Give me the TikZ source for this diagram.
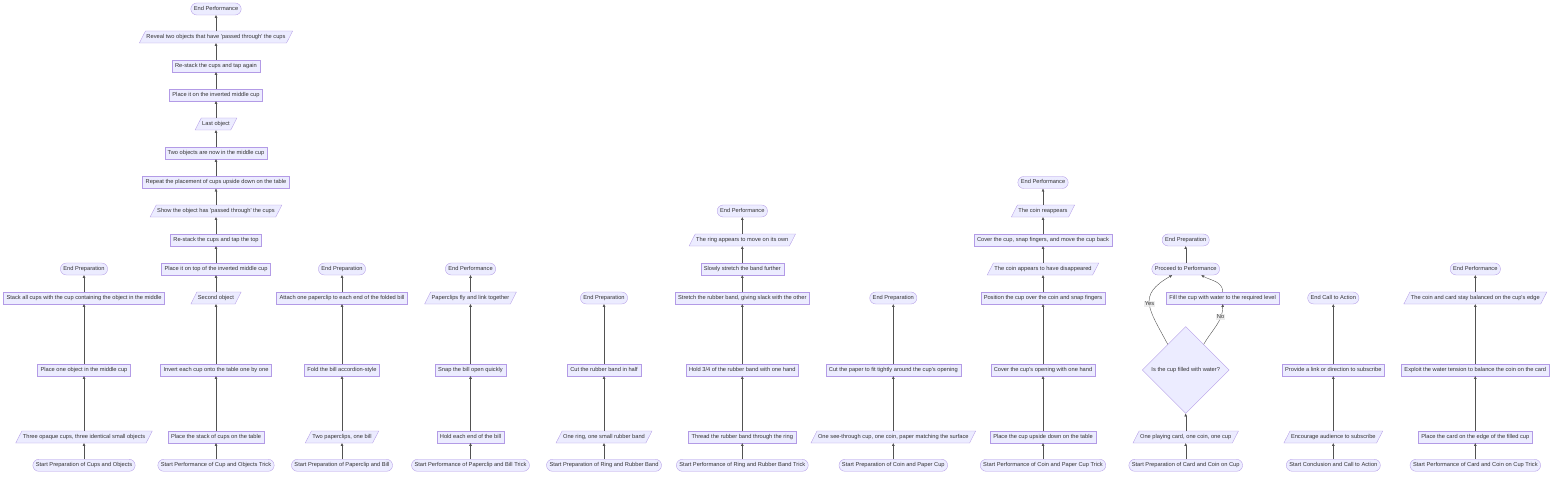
\documentclass[tikz,border=0pt]{standalone}
\usepackage{fontspec}
\setmainfont{Liberation Sans}
\usetikzlibrary{shapes.geometric,arrows.meta,calc}
\definecolor{mmfill}{HTML}{ECECFF}
\definecolor{mmstroke}{HTML}{9370DB}
\definecolor{mmtext}{HTML}{333333}
\definecolor{mmedge}{HTML}{333333}
\definecolor{mmlabel}{HTML}{E8E8E8}
\newcommand{\q}{\textquotesingle}
\tikzset{
  base/.style={draw=mmstroke!70, fill=mmfill, line width=0.35pt, text=mmtext,
    font=\fontsize{5.7}{6.8}\selectfont, text height=4.2pt, text depth=1.3pt,
    inner ysep=3.25pt, inner xsep=3pt},
  proc/.style={base, rectangle},
  term/.style={base, rectangle, rounded corners=6pt},
  io/.style={base, trapezium, trapezium left angle=63, trapezium right angle=117, inner xsep=1pt},
  decision/.style={base, diamond, aspect=1, minimum width=87pt, minimum height=87pt, inner sep=1pt},
  arr/.style={draw=mmedge!85, line width=0.4pt, -{Triangle[length=2.8pt,width=2.6pt]}},
  elabel/.style={fill=mmlabel, fill opacity=0.8, text opacity=1, text=mmtext,
    font=\fontsize{5.7}{6.8}\selectfont, inner sep=0.8pt}
}
\newcommand{\up}[2]{\draw[arr] (#1.north) -- (#1.north |- #2.south);}
\begin{document}
\begin{tikzpicture}[x=1pt,y=1pt]
\useasboundingbox (0,0) rectangle (1568,480);
% column 1
\node[term] (a1) at (84,14.7) {Start Preparation of Cups and Objects};
\node[io]   (a2) at (84,43) {Three opaque cups, three identical small objects};
\node[proc] (a3) at (84,110) {Place one object in the middle cup};
\node[proc] (a4) at (84,182) {Stack all cups with the cup containing the object in the middle};
\node[term] (a5) at (84,211) {End Preparation};
\up{a1}{a2} \up{a2}{a3} \up{a3}{a4} \up{a4}{a5}
% column 2
\node[term] (b1) at (216,14.7) {Start Performance of Cup and Objects Trick};
\node[proc] (b2) at (216,43) {Place the stack of cups on the table};
\node[proc] (b3) at (216,110) {Invert each cup onto the table one by one};
\node[io]   (b4) at (216,182) {Second object};
\node[proc] (b5) at (216,211) {Place it on top of the inverted middle cup};
\node[proc] (b6) at (216,240) {Re-stack the cups and tap the top};
\node[io]   (b7) at (216,269) {Show the object has \q passed through\q{} the cups};
\node[proc] (b8) at (216,297.5) {Repeat the placement of cups upside down on the table};
\node[proc] (b9) at (216,327) {Two objects are now in the middle cup};
\node[io]   (b10) at (216,356) {Last object};
\node[proc] (b11) at (216,385) {Place it on the inverted middle cup};
\node[proc] (b12) at (216,414) {Re-stack the cups and tap again};
\node[io]   (b13) at (216,443) {Reveal two objects that have \q passed through\q{} the cups};
\node[term] (b14) at (216,471) {End Performance};
\foreach \u/\v in {b1/b2,b2/b3,b3/b4,b4/b5,b5/b6,b6/b7,b7/b8,b8/b9,b9/b10,b10/b11,b11/b12,b12/b13,b13/b14}
  {\up{\u}{\v}}
% column 3
\node[term] (c1) at (342,14.7) {Start Preparation of Paperclip and Bill};
\node[io]   (c2) at (342,43) {Two paperclips, one bill};
\node[proc] (c3) at (342,110) {Fold the bill accordion-style};
\node[proc] (c4) at (342,182) {Attach one paperclip to each end of the folded bill};
\node[term] (c5) at (342,211) {End Preparation};
\foreach \u/\v in {c1/c2,c2/c3,c3/c4,c4/c5} {\up{\u}{\v}}
% column 4
\node[term] (d1) at (470.5,14.7) {Start Performance of Paperclip and Bill Trick};
\node[proc] (d2) at (470.5,43) {Hold each end of the bill};
\node[proc] (d3) at (470.5,110) {Snap the bill open quickly};
\node[io]   (d4) at (470.5,182) {Paperclips fly and link together};
\node[term] (d5) at (470.5,211) {End Performance};
\foreach \u/\v in {d1/d2,d2/d3,d3/d4,d4/d5} {\up{\u}{\v}}
% column 5
\node[term] (e1) at (604,14.7) {Start Preparation of Ring and Rubber Band};
\node[io]   (e2) at (604,43) {One ring, one small rubber band};
\node[proc] (e3) at (604,110) {Cut the rubber band in half};
\node[term] (e4) at (604,182) {End Preparation};
\foreach \u/\v in {e1/e2,e2/e3,e3/e4} {\up{\u}{\v}}
% column 6
\node[term] (f1) at (742.3,14.7) {Start Performance of Ring and Rubber Band Trick};
\node[proc] (f2) at (742.3,43) {Thread the rubber band through the ring};
\node[proc] (f3) at (742.3,110) {Hold 3/4 of the rubber band with one hand};
\node[proc] (f4) at (742.3,182) {Stretch the rubber band, giving slack with the other};
\node[proc] (f5) at (742.3,211) {Slowly stretch the band further};
\node[io]   (f6) at (742.3,240) {The ring appears to move on its own};
\node[term] (f7) at (742.3,269) {End Performance};
\foreach \u/\v in {f1/f2,f2/f3,f3/f4,f4/f5,f5/f6,f6/f7} {\up{\u}{\v}}
% column 7
\node[term] (g1) at (893.3,14.7) {Start Preparation of Coin and Paper Cup};
\node[io]   (g2) at (893.3,43) {One see-through cup, one coin, paper matching the surface};
\node[proc] (g3) at (893.3,110) {Cut the paper to fit tightly around the cup\q s opening};
\node[term] (g4) at (893.3,182) {End Preparation};
\foreach \u/\v in {g1/g2,g2/g3,g3/g4} {\up{\u}{\v}}
% column 8
\node[term] (h1) at (1043,14.7) {Start Performance of Coin and Paper Cup Trick};
\node[proc] (h2) at (1043,43) {Place the cup upside down on the table};
\node[proc] (h3) at (1043,110) {Cover the cup\q s opening with one hand};
\node[proc] (h4) at (1043,182) {Position the cup over the coin and snap fingers};
\node[io]   (h5) at (1043,211) {The coin appears to have disappeared};
\node[proc] (h6) at (1043,240) {Cover the cup, snap fingers, and move the cup back};
\node[io]   (h7) at (1043,269) {The coin reappears};
\node[term] (h8) at (1043,297.5) {End Performance};
\foreach \u/\v in {h1/h2,h2/h3,h3/h4,h4/h5,h5/h6,h6/h7,h7/h8} {\up{\u}{\v}}
% column 9
\node[term] (i1) at (1185.7,14.7) {Start Preparation of Card and Coin on Cup};
\node[io]   (i2) at (1185.7,43) {One playing card, one coin, one cup};
\node[decision] (i3) at (1185.7,110) {Is the cup filled with water?};
\node[term] (i4) at (1185.7,211) {Proceed to Performance};
\node[term] (i5) at (1185.7,240) {End Preparation};
\node[proc] (i6) at (1222.7,182) {Fill the cup with water to the required level};
\up{i1}{i2} \up{i2}{i3} \up{i4}{i5}
\draw[arr] (i3.125) to[out=118,in=-150,looseness=1.5] node[elabel,pos=0.5] {Yes} ($(i4.south west)!0.3!(i4.south east)$);
\draw[arr] (i3.55) to[out=60,in=-90] node[elabel,pos=0.72] {No} (i6.south);
\draw[arr] (i6.north) to[out=90,in=-30] ($(i4.south west)!0.73!(i4.south east)$);
% column 10
\node[term] (j1) at (1333.3,14.7) {Start Conclusion and Call to Action};
\node[io]   (j2) at (1333.3,43) {Encourage audience to subscribe};
\node[proc] (j3) at (1333.3,110) {Provide a link or direction to subscribe};
\node[term] (j4) at (1333.3,182) {End Call to Action};
\foreach \u/\v in {j1/j2,j2/j3,j3/j4} {\up{\u}{\v}}
% column 11
\node[term] (k1) at (1475.3,14.7) {Start Performance of Card and Coin on Cup Trick};
\node[proc] (k2) at (1475.3,43) {Place the card on the edge of the filled cup};
\node[proc] (k3) at (1475.3,110) {Exploit the water tension to balance the coin on the card};
\node[io]   (k4) at (1475.3,182) {The coin and card stay balanced on the cup\q s edge};
\node[term] (k5) at (1475.3,211) {End Performance};
\foreach \u/\v in {k1/k2,k2/k3,k3/k4,k4/k5} {\up{\u}{\v}}
\end{tikzpicture}
\end{document}
